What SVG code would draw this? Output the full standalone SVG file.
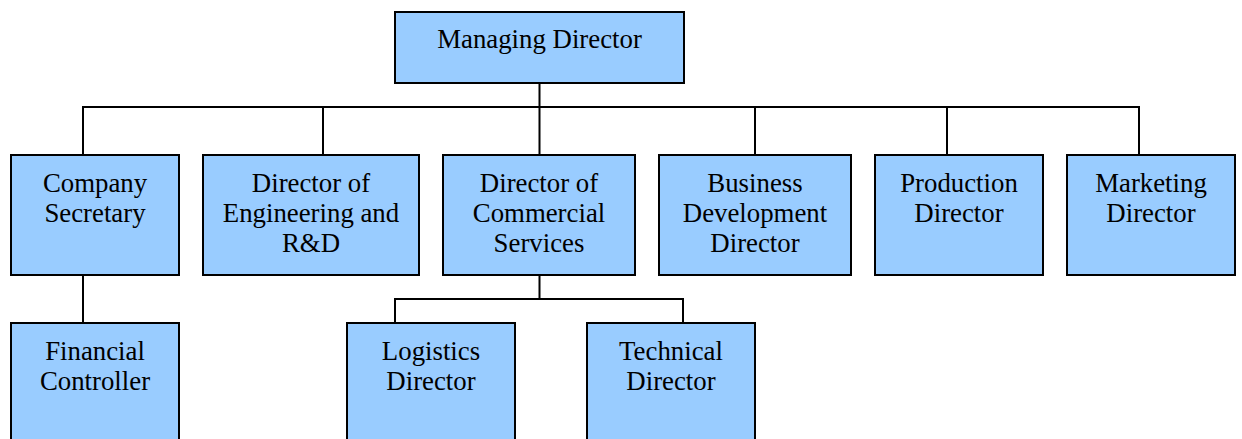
<svg xmlns="http://www.w3.org/2000/svg" width="1242" height="439" viewBox="0 0 1242 439">
<style>
.box{fill:#99CCFF;stroke:#000;stroke-width:2}
.lbl{font-family:"Liberation Serif","Times New Roman",serif;font-size:26.8px;fill:#000;text-anchor:middle}
.con{fill:none;stroke:#000;stroke-width:2}
</style>
<rect x="0" y="0" width="1242" height="439" fill="#fff"/>
<g id="connectors">
<path class="con" d="M539.5 84V107M83 155V107H1139V155M323 107V155M539.5 107V155M755 107V155M947 107V155"/>
<path class="con" d="M83 275V323"/>
<path class="con" d="M539.5 275V299M395 323V299H683V323"/>
</g>
<g id="managing-director"><rect class="box" x="395" y="12" width="289" height="71"/><text class="lbl" x="539.5" y="48">Managing Director</text></g>
<g id="company-secretary"><rect class="box" x="11" y="155" width="168" height="120"/><text class="lbl" x="95" y="192">Company</text><text class="lbl" x="95" y="222">Secretary</text></g>
<g id="director-engineering"><rect class="box" x="203" y="155" width="216" height="120"/><text class="lbl" x="311" y="192">Director of</text><text class="lbl" x="311" y="222">Engineering and</text><text class="lbl" x="311" y="252">R&amp;D</text></g>
<g id="director-commercial"><rect class="box" x="443" y="155" width="192" height="120"/><text class="lbl" x="539" y="192">Director of</text><text class="lbl" x="539" y="222">Commercial</text><text class="lbl" x="539" y="252">Services</text></g>
<g id="business-development"><rect class="box" x="659" y="155" width="192" height="120"/><text class="lbl" x="755" y="192">Business</text><text class="lbl" x="755" y="222">Development</text><text class="lbl" x="755" y="252">Director</text></g>
<g id="production-director"><rect class="box" x="875" y="155" width="168" height="120"/><text class="lbl" x="959" y="192">Production</text><text class="lbl" x="959" y="222">Director</text></g>
<g id="marketing-director"><rect class="box" x="1067" y="155" width="168" height="120"/><text class="lbl" x="1151" y="192">Marketing</text><text class="lbl" x="1151" y="222">Director</text></g>
<g id="financial-controller"><rect class="box" x="11" y="323" width="168" height="130"/><text class="lbl" x="95" y="360">Financial</text><text class="lbl" x="95" y="390">Controller</text></g>
<g id="logistics-director"><rect class="box" x="347" y="323" width="168" height="130"/><text class="lbl" x="431" y="360">Logistics</text><text class="lbl" x="431" y="390">Director</text></g>
<g id="technical-director"><rect class="box" x="587" y="323" width="168" height="130"/><text class="lbl" x="671" y="360">Technical</text><text class="lbl" x="671" y="390">Director</text></g>
</svg>
